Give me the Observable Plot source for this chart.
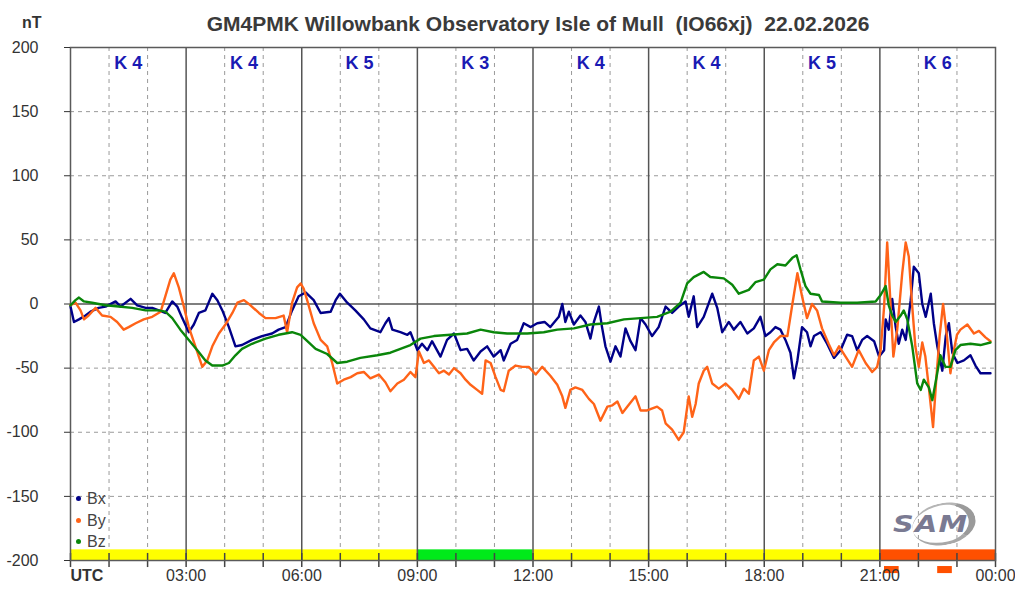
<!DOCTYPE html>
<html><head><meta charset="utf-8">
<script src="https://cdn.jsdelivr.net/npm/d3@7"></script>
<script src="https://cdn.jsdelivr.net/npm/@observablehq/plot@0.6"></script>
<style>
body{margin:0;background:#fff;font-family:"Liberation Sans",Arial,sans-serif;}
#wrap{position:relative;width:1015px;height:589px;overflow:hidden;}
#chart{position:absolute;left:0;top:0;}
.ov{position:absolute;white-space:pre;}
#title{left:0;width:1076px;text-align:center;top:13px;font-size:21px;line-height:21px;font-weight:bold;color:#3a3a3a;}
#unit{left:22px;top:15px;font-size:16px;line-height:16px;font-weight:bold;color:#333;}
.leg{left:76px;font-size:16px;line-height:18px;color:#444;}
.leg i{display:inline-block;width:5px;height:5px;border-radius:50%;margin-right:6px;vertical-align:middle;position:relative;top:-1px;}
#logo{left:893px;top:512px;font-size:23px;line-height:24px;font-style:italic;font-weight:bold;color:#7a7a92;letter-spacing:1px;font-family:"DejaVu Sans",sans-serif;transform:scaleX(1.25);transform-origin:left;}
#swoosh{left:912px;top:503px;width:64px;height:42px;border-radius:50%;border-right:7px solid #9a9a9a;border-bottom:3px solid #a8a8a8;border-top:2px solid #b5b5b5;box-sizing:border-box;transform:rotate(-12deg);}
</style></head><body>
<div id="wrap"><div id="chart"></div>
<div class="ov" id="title">GM4PMK Willowbank Observatory Isle of Mull  (IO66xj)  22.02.2026</div>
<div class="ov" id="unit">nT</div>
<div class="ov" id="swoosh"></div>
<div class="ov" id="logo">SAM</div>
<div id="legend"></div>
</div>
<script>
const hours = d3.range(0, 25);
const yTicks = [-200, -150, -100, -50, 0, 50, 100, 150, 200];
const xTickHours = [0, 3, 6, 9, 12, 15, 18, 21, 24];
const xTickLabels = ["UTC", "03:00", "06:00", "09:00", "12:00", "15:00", "18:00", "21:00", "00:00"];
const kPeriodStart = [0, 3, 6, 9, 12, 15, 18, 21];
const kIndex = [4, 4, 5, 3, 4, 4, 5, 6];
const alertStart = [21.12, 22.5];
const alertEnd = [21.5, 22.88];
const seriesNames = ["Bx", "By", "Bz"];
const seriesColors = ["#000088", "#ff6318", "#0a860a"];

const bx = [[0,-2],[0.09,-14],[0.22,-12],[0.39,-9],[0.52,-6],[0.73,-3],[0.91,-2],[1.17,2],[1.3,-2],[1.56,4],[1.73,-1],[1.95,-3],[2.12,-3],[2.29,-5],[2.46,-7],[2.64,2],[2.77,-2],[2.9,-11],[3.07,-22],[3.2,-16],[3.33,-7],[3.5,-5],[3.68,8],[3.81,3],[3.94,-5],[4.11,-18],[4.28,-33],[4.45,-32],[4.71,-28],[4.97,-25],[5.23,-23],[5.4,-20],[5.58,-18],[5.75,-5],[5.92,6],[6.1,9],[6.31,3],[6.49,-7],[6.75,-6],[6.88,3],[6.99,8],[7.18,1],[7.39,-5],[7.61,-12],[7.78,-19],[8.04,-22],[8.17,-15],[8.26,-11],[8.35,-20],[8.56,-22],[8.74,-24],[8.82,-22],[9.0,-36],[9.12,-31],[9.26,-36],[9.38,-29],[9.6,-41],[9.77,-28],[9.95,-23],[10.12,-36],[10.29,-35],[10.46,-44],[10.64,-37],[10.81,-33],[10.98,-41],[11.16,-36],[11.24,-44],[11.42,-31],[11.59,-28],[11.76,-15],[11.94,-18],[12.11,-15],[12.3,-14],[12.45,-18],[12.67,-10],[12.76,0],[12.84,-14],[12.93,-6],[13.06,-16],[13.23,-9],[13.36,-14],[13.49,-27],[13.58,-14],[13.71,-2],[13.79,-18],[13.88,-33],[14.01,-45],[14.14,-33],[14.27,-41],[14.4,-19],[14.53,-29],[14.66,-36],[14.79,-11],[14.92,-16],[15.09,-25],[15.26,-18],[15.44,-2],[15.61,-7],[15.78,-2],[15.96,2],[16.04,-10],[16.17,6],[16.26,-18],[16.43,-10],[16.65,8],[16.78,-3],[16.91,-22],[17.08,-14],[17.21,-20],[17.38,-14],[17.56,-23],[17.73,-19],[17.9,-10],[18.03,-25],[18.16,-22],[18.29,-18],[18.42,-20],[18.55,-28],[18.68,-38],[18.77,-58],[18.86,-44],[18.98,-18],[19.11,-22],[19.2,-33],[19.29,-25],[19.46,-22],[19.63,-31],[19.81,-42],[19.98,-36],[20.15,-24],[20.28,-25],[20.41,-36],[20.54,-28],[20.67,-25],[20.85,-29],[20.98,-41],[21.11,-36],[21.15,-12],[21.23,-20],[21.32,4],[21.41,-18],[21.49,-31],[21.58,-20],[21.67,-28],[21.8,3],[21.88,29],[22.01,24],[22.1,0],[22.19,-10],[22.32,8],[22.4,-15],[22.49,-33],[22.62,-52],[22.71,-25],[22.79,-15],[22.88,-38],[23.01,-46],[23.18,-44],[23.35,-40],[23.48,-48],[23.61,-54],[23.87,-54]];

const by = [[0,-1],[0.13,1],[0.26,-5],[0.35,-12],[0.47,-9],[0.65,-3],[0.82,-9],[1.04,-10],[1.21,-14],[1.38,-20],[1.51,-18],[1.69,-15],[1.9,-12],[2.12,-10],[2.34,-6],[2.46,6],[2.59,19],[2.68,24],[2.81,13],[2.94,-2],[3.07,-18],[3.24,-33],[3.42,-49],[3.55,-44],[3.68,-33],[3.85,-23],[4.02,-16],[4.2,-7],[4.33,1],[4.5,3],[4.67,-1],[4.89,-7],[5.06,-11],[5.32,-11],[5.53,-9],[5.62,-22],[5.75,1],[5.88,13],[5.97,16],[6.05,12],[6.14,3],[6.31,-15],[6.49,-28],[6.66,-33],[6.79,-46],[6.92,-62],[7.09,-59],[7.27,-57],[7.44,-54],[7.61,-53],[7.78,-58],[8.0,-55],[8.17,-61],[8.3,-68],[8.48,-62],[8.65,-59],[8.82,-53],[8.95,-57],[9.04,-37],[9.17,-46],[9.3,-44],[9.43,-49],[9.56,-54],[9.69,-52],[9.82,-55],[9.95,-50],[10.12,-54],[10.25,-59],[10.38,-63],[10.55,-67],[10.68,-70],[10.77,-44],[10.9,-46],[11.03,-57],[11.16,-67],[11.24,-68],[11.37,-52],[11.55,-48],[11.72,-49],[11.89,-49],[12.07,-55],[12.24,-49],[12.45,-56],[12.63,-63],[12.76,-72],[12.84,-81],[12.97,-67],[13.1,-65],[13.28,-67],[13.45,-74],[13.58,-78],[13.75,-91],[13.93,-80],[14.06,-79],[14.19,-76],[14.32,-85],[14.45,-80],[14.66,-72],[14.79,-83],[14.96,-83],[15.22,-80],[15.35,-83],[15.44,-93],[15.61,-98],[15.78,-106],[15.91,-100],[16.04,-72],[16.13,-88],[16.22,-78],[16.3,-62],[16.43,-52],[16.52,-49],[16.65,-62],[16.82,-66],[17.0,-62],[17.17,-67],[17.34,-74],[17.47,-66],[17.6,-70],[17.73,-44],[17.86,-41],[17.99,-52],[18.12,-36],[18.25,-30],[18.42,-25],[18.6,-25],[18.73,0],[18.86,24],[18.98,6],[19.11,-11],[19.24,0],[19.37,-5],[19.5,-19],[19.67,-31],[19.81,-40],[19.94,-33],[20.11,-41],[20.28,-49],[20.45,-36],[20.63,-46],[20.8,-53],[20.93,-49],[21.02,-36],[21.11,-2],[21.19,48],[21.28,-2],[21.35,-41],[21.45,-20],[21.58,24],[21.67,48],[21.75,37],[21.84,-2],[21.92,-33],[22.01,-49],[22.1,-30],[22.18,-41],[22.27,-65],[22.38,-96],[22.46,-60],[22.55,-25],[22.64,0],[22.74,-25],[22.83,-54],[22.92,-36],[23.0,-24],[23.09,-20],[23.27,-16],[23.44,-23],[23.57,-21],[23.74,-26],[23.87,-29]];

const bz = [[0,-1],[0.13,3],[0.22,5],[0.35,2],[0.56,1],[0.91,-1],[1.25,-2],[1.6,-3],[1.95,-5],[2.29,-5],[2.46,-6],[2.64,-11],[2.85,-20],[3.07,-28],[3.29,-36],[3.5,-44],[3.68,-48],[3.94,-48],[4.11,-46],[4.28,-40],[4.45,-35],[4.71,-31],[5.06,-27],[5.4,-24],[5.75,-22],[5.97,-24],[6.18,-30],[6.36,-35],[6.66,-39],[6.92,-46],[7.18,-45],[7.52,-42],[7.96,-40],[8.3,-38],[8.56,-35],[8.82,-32],[9.08,-27],[9.43,-25],[9.86,-24],[10.29,-23],[10.64,-20],[10.98,-22],[11.33,-23],[11.85,-23],[12.28,-22],[12.63,-20],[13.06,-19],[13.49,-16],[13.93,-15],[14.36,-12],[14.79,-11],[15.22,-10],[15.57,-6],[15.83,1],[16.0,16],[16.17,21],[16.43,25],[16.6,21],[16.95,20],[17.17,15],[17.34,8],[17.6,11],[17.77,17],[17.99,19],[18.16,27],[18.34,31],[18.55,30],[18.73,36],[18.84,38],[18.94,27],[19.07,14],[19.2,8],[19.42,7],[19.5,2],[19.98,1],[20.41,1],[20.89,2],[21.02,7],[21.15,14],[21.23,-1],[21.32,-9],[21.41,-14],[21.54,-9],[21.62,-5],[21.71,-12],[21.84,-33],[21.97,-62],[22.06,-67],[22.14,-59],[22.27,-65],[22.36,-75],[22.44,-62],[22.57,-40],[22.7,-49],[22.83,-49],[22.96,-36],[23.09,-32],[23.35,-31],[23.61,-32],[23.87,-30]];

const kColor = k => k >= 6 ? "#ff5000" : (k <= 3 ? "#00ea1a" : "#ffff00");
const periods = kIndex.map((k, i) => ({x1: kPeriodStart[i], x2: kPeriodStart[i] + 3, k, c: kColor(k)}));
const alerts = alertStart.map((s, i) => ({x1: s, x2: alertEnd[i]}));
const series = [bx, by, bz];

const chart = Plot.plot({
  width: 1015, height: 589,
  marginTop: 47, marginRight: 20, marginBottom: 29, marginLeft: 70,
  x: {domain: [0, 24], axis: null},
  y: {domain: [-200, 200]},
  style: {fontFamily: "'Liberation Sans', Arial, sans-serif", background: "#fff", overflow: "visible"},
  marks: [
    Plot.ruleY(yTicks.filter(d => d !== 0 && Math.abs(d) < 200), {stroke: "#9a9a9a", strokeDasharray: "4,4"}),
    Plot.ruleX(hours.filter(h => h % 3 !== 0), {stroke: "#9a9a9a", strokeDasharray: "4,4"}),
    Plot.rect(periods, {x1: "x1", x2: "x2", y1: -200, y2: -191.7, fill: "c"}),
    Plot.rect(alerts, {x1: "x1", x2: "x2", y1: -204.7, y2: -210.2, fill: "#ff5000", clip: false}),
    Plot.ruleX(hours.filter(h => h % 3 === 0 && h > 0 && h < 24), {stroke: "#555", strokeWidth: 1.5}),
    Plot.ruleY([0], {stroke: "#555", strokeWidth: 1.5}),
    Plot.ruleX(hours, {y1: -205.5, y2: -194.5, stroke: "#444", strokeWidth: 1.5}),
    Plot.frame({stroke: "#5a5a5a", strokeWidth: 1.5}),
    Plot.axisY(yTicks, {tickSize: 6, tickPadding: 26, fontSize: 16, tickFormat: d => String(d), label: null, color: "#333"}),
    Plot.text(xTickHours.slice(1), {x: d => d, text: (d, i) => xTickLabels[i + 1], frameAnchor: "bottom", dy: 20, fontSize: 16, fill: "#333"}),
    Plot.text(xTickHours.slice(0, 1), {x: d => d, text: () => xTickLabels[0], frameAnchor: "bottom", dy: 20, fontSize: 16, fontWeight: "bold", textAnchor: "start", fill: "#333"}),
    Plot.text(periods, {x: d => d.x1 + 1.5, text: d => "K " + d.k, frameAnchor: "top", dy: 9, fontSize: 18, fontWeight: "bold", fill: "#1a1ab4"}),
    ...series.map((s, i) => Plot.line(s, {x: d => d[0], y: d => d[1], stroke: seriesColors[i], strokeWidth: 2.4}))
  ]
});
document.getElementById("chart").append(chart);

const legendTops = [490, 511.7, 532.7];
const legend = document.getElementById("legend");
seriesNames.forEach((n, i) => {
  const row = document.createElement("div");
  row.className = "ov leg";
  row.style.top = legendTops[i] + "px";
  row.innerHTML = `<i style="background:${seriesColors[i]}"></i>${n}`;
  legend.append(row);
});
</script>
</body></html>
